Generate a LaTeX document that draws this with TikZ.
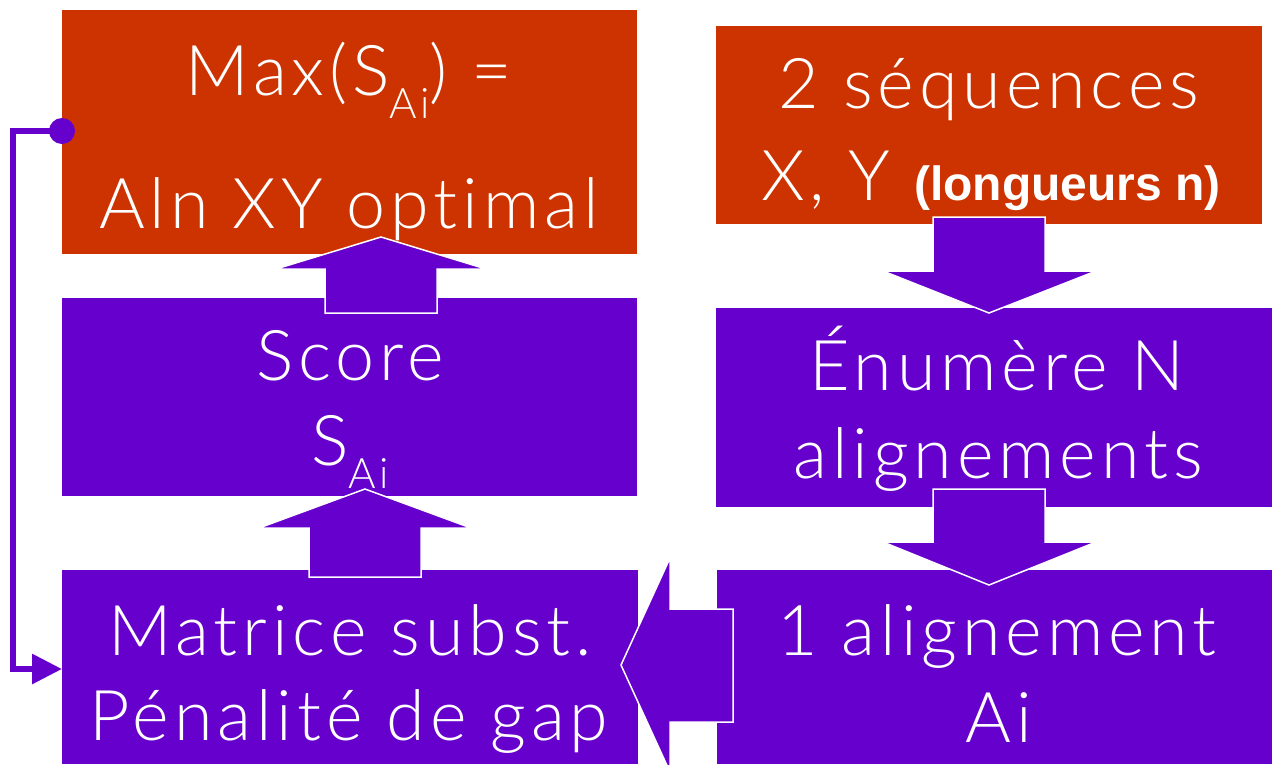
\documentclass[tikz,border=0pt]{standalone}
\usepackage{fontspec}
\setmainfont{Lato Light}[Ligatures={NoCommon,NoDiscretionary},LetterSpace=7]
\newfontfamily\arialfont{Liberation Sans}
\usetikzlibrary{arrows.meta}
\definecolor{rd}{RGB}{204,51,0}
\definecolor{pu}{RGB}{102,0,204}
\newcommand\lowsub[1]{\raisebox{-23pt}{\fontsize{42}{42}\selectfont #1}}
\begin{document}
\begin{tikzpicture}[x=1pt,y=-1pt,
 box/.style={draw=none,inner sep=0pt,outer sep=0pt,anchor=north west},
 txt/.style={text=white,anchor=base,inner sep=0pt,font=\fontsize{70}{70}\selectfont},
 blockarrow/.style={fill=pu,draw=white,line width=1.5pt,line join=miter},
 loopline/.style={draw=pu,line width=6pt,-{Triangle[length=30pt,width=29pt]}}]
\useasboundingbox (0,0) rectangle (1272,764);
% boxes
\node[box,fill=rd,minimum width=575pt,minimum height=244pt] (tl) at (62,10) {};
\node[box,fill=rd,minimum width=546pt,minimum height=198pt] (tr) at (716,26) {};
\node[box,fill=pu,minimum width=575pt,minimum height=198pt] (ml) at (62,298) {};
\node[box,fill=pu,minimum width=556pt,minimum height=199pt] (mr) at (716,308) {};
\node[box,fill=pu,minimum width=576pt,minimum height=194pt] (bl) at (62,570) {};
\node[box,fill=pu,minimum width=555pt,minimum height=194pt] (br) at (717,570) {};
% texts
\node[txt] (tl1) at (349,95) {Max(S\lowsub{Ai}) =};
\node[txt] (tl2) at (349,228) {Aln XY optimal};
\node[txt] (ml1) at (350,380) {Score};
\node[txt] (ml2) at (350,465) {S\lowsub{Ai}};
\node[txt] (tr1) at (989,108) {2 séquences};
\node[txt] (tr2) at (991,200) {X, Y {\arialfont\bfseries\fontsize{48}{48}\selectfont (longueurs n)}};
\node[txt] (mr1) at (997,390) {Énumère N};
\node[txt] (mr2) at (998,478) {alignements};
\node[txt] (bl1) at (350,655) {Matrice subst.};
\node[txt] (bl2) at (349,740) {Pénalité de gap};
\node[txt] (br1) at (997,655) {1 alignement};
\node[txt] (br2) at (999,742) {Ai};
% block arrows
\draw[blockarrow] (325,313) -- (325,269) -- (276,269) -- (381,237) -- (486,269) -- (437,269) -- (437,313) -- cycle;
\draw[blockarrow] (309,577) -- (309,528) -- (259,528) -- (365,489) -- (471,528) -- (421,528) -- (421,577) -- cycle;
\draw[blockarrow] (933,217) -- (1045,217) -- (1045,271) -- (1096,271) -- (989,313) -- (883,271) -- (933,271) -- cycle;
\draw[blockarrow] (933,489) -- (1045,489) -- (1045,542) -- (1096,542) -- (989,585) -- (883,542) -- (933,542) -- cycle;
\draw[blockarrow] (733,609) -- (670,609) -- (670,558) -- (621,665) -- (670,772) -- (670,722) -- (733,722) -- cycle;
% loop connector
\coordinate (dot) at (62,131);
\coordinate (c1) at (13,131);
\coordinate (c2) at (13,669);
\coordinate (tip) at (62,669);
\draw[loopline] (dot) -- (c1) -- (c2) -- (tip);
\fill[pu] (dot) circle (13pt);
\end{tikzpicture}
\end{document}
